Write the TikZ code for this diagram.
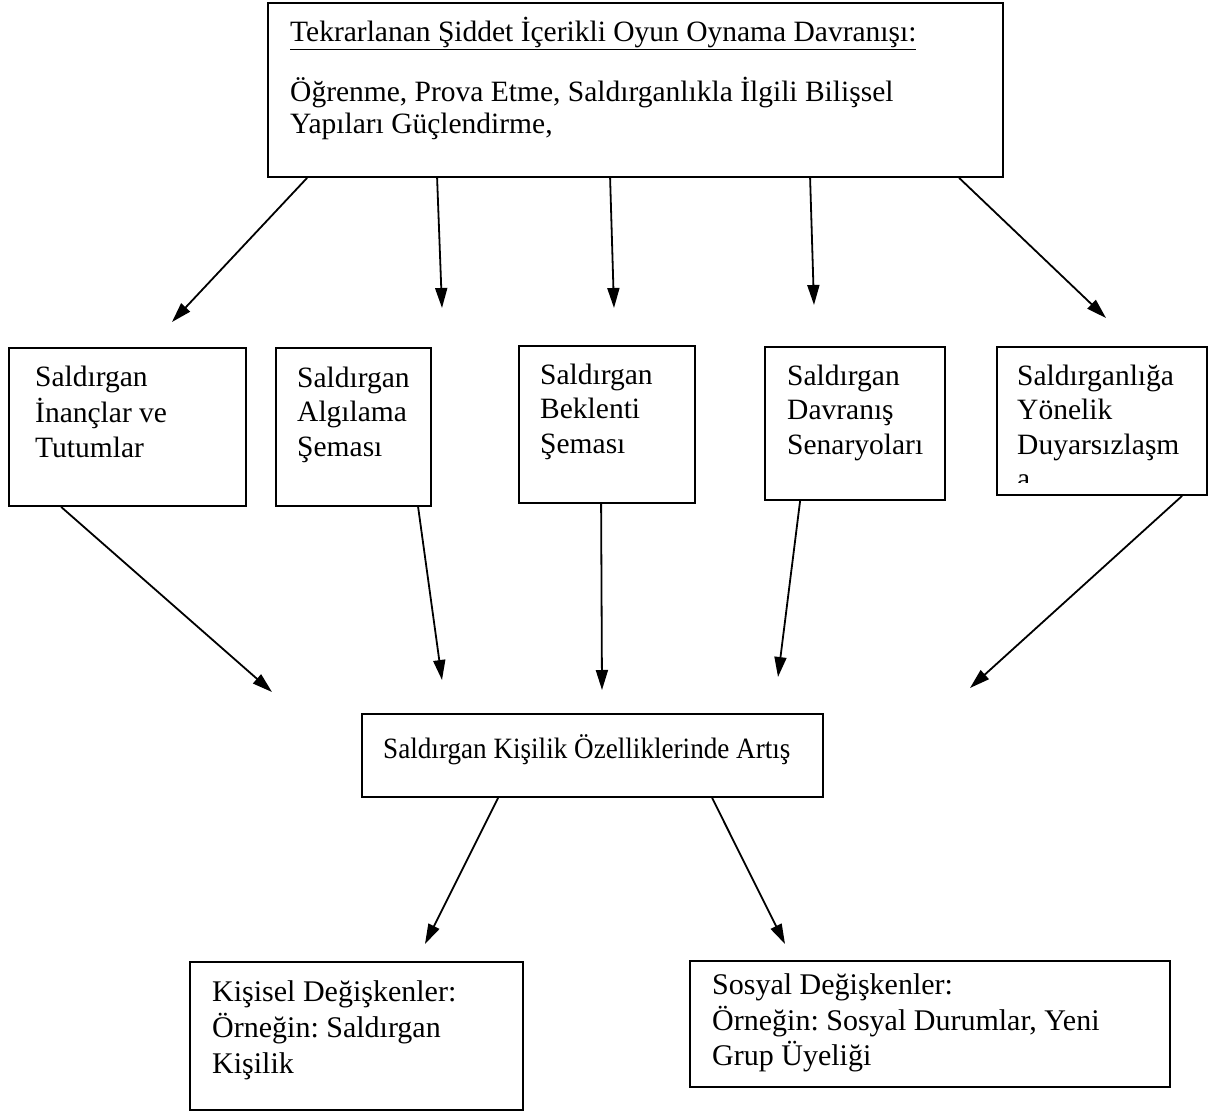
\documentclass[tikz,border=0pt]{standalone}
\usepackage{fontspec}
\setmainfont{Liberation Serif}
\newfontfamily\condfont[FakeStretch=0.92]{Liberation Serif}
\usetikzlibrary{arrows.meta}
\frenchspacing
\begin{document}
\begin{tikzpicture}[x=1pt,y=-1pt,
  box/.style={draw=black,line width=1.8pt,rectangle,inner sep=0pt},
  txt/.style={anchor=north west,inner sep=0pt,align=left,font=\fontsize{29.5}{34.5}\selectfont},
  toptxt/.style={txt,font=\fontsize{29.5}{32}\selectfont},
  midtxt/.style={txt,font=\condfont\fontsize{29.5}{34}\selectfont},
  bottxt/.style={txt,font=\fontsize{30}{34.5}\selectfont},
  arr/.style={line width=1.8pt,-{Triangle[length=20pt,width=12pt]}}]
\useasboundingbox (0,0) rectangle (1224,1115);
% boxes
\node[box,minimum width=735pt,minimum height=174pt] (top) at (635.5,90) {};
\node[box,minimum width=237pt,minimum height=158pt] (b1) at (127.5,427) {};
\node[box,minimum width=155pt,minimum height=158pt] (b2) at (353.5,427) {};
\node[box,minimum width=176pt,minimum height=157pt] (b3) at (607,424.5) {};
\node[box,minimum width=180pt,minimum height=153pt] (b4) at (855,423.5) {};
\node[box,minimum width=210pt,minimum height=148pt] (b5) at (1102,421) {};
\node[box,minimum width=461pt,minimum height=83pt] (mid) at (592.5,755.5) {};
\node[box,minimum width=333pt,minimum height=148pt] (bl) at (356.5,1036) {};
\node[box,minimum width=480pt,minimum height=126pt] (br) at (930,1024) {};
% texts
\node[toptxt] (ttitle) at (290,17) {\strut\underline{Tekrarlanan Şiddet İçerikli Oyun Oynama Davranışı:}};
\node[toptxt] (tbody) at (290,77) {\strut Öğrenme, Prova Etme, Saldırganlıkla İlgili Bilişsel\\Yapıları Güçlendirme,};
\node[txt] (t1) at (35,362.5) {\strut Saldırgan\\İnançlar ve\\Tutumlar};
\node[txt] (t2) at (297,363) {\strut Saldırgan\\Algılama\\Şeması};
\node[txt] (t3) at (540,360) {\strut Saldırgan\\Beklenti\\Şeması};
\node[txt] (t4) at (787,361) {\strut Saldırgan\\Davranış\\Senaryoları};
\begin{scope}
\clip (997,347) rectangle (1207,482);
\node[txt] (t5) at (1017,361) {\strut Saldırganlığa\\Yönelik\\Duyarsızlaşm\\a};
\end{scope}
\node[midtxt] (tmid) at (383,734) {\strut Saldırgan Kişilik Özelliklerinde Artış};
\node[bottxt,font=\fontsize{30}{36}\selectfont] (tbl) at (212,976.5) {\strut Kişisel Değişkenler:\\Örneğin: Saldırgan\\Kişilik};
\node[bottxt] (tbr) at (712,970.5) {\strut Sosyal Değişkenler:\\Örneğin: Sosyal Durumlar, Yeni\\Grup Üyeliği};
% free arrow ends
\coordinate (e1) at (172,322);
\coordinate (e2) at (442,308);
\coordinate (e3) at (614,308);
\coordinate (e4) at (814,305);
\coordinate (e5) at (1106,318);
\coordinate (f1) at (272,692);
\coordinate (f2) at (442,680);
\coordinate (f3) at (602,690);
\coordinate (f4) at (778,677);
\coordinate (f5) at (970,688);
\coordinate (g1) at (425,944);
\coordinate (g2) at (785,944);
% arrows
\draw[arr] ([xshift=40pt]top.south west) -- (e1);
\draw[arr] ([xshift=170pt]top.south west) -- (e2);
\draw[arr] ([xshift=343pt]top.south west) -- (e3);
\draw[arr] ([xshift=543pt]top.south west) -- (e4);
\draw[arr] ([xshift=692pt]top.south west) -- (e5);
\draw[arr] ([xshift=53pt]b1.south west) -- (f1);
\draw[arr] ([xshift=143pt]b2.south west) -- (f2);
\draw[arr] ([xshift=83pt]b3.south west) -- (f3);
\draw[arr] ([xshift=36pt]b4.south west) -- (f4);
\draw[arr] ([xshift=186pt]b5.south west) -- (f5);
\draw[arr] ([xshift=137pt]mid.south west) -- (g1);
\draw[arr] ([xshift=351pt]mid.south west) -- (g2);
\end{tikzpicture}
\end{document}
